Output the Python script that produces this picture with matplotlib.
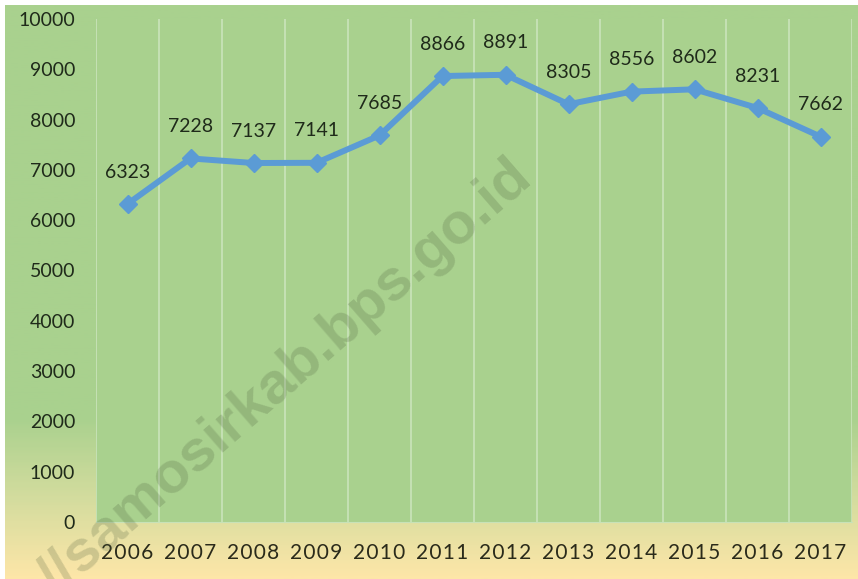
import matplotlib
matplotlib.use("Agg")
from matplotlib import pyplot as plt
from matplotlib.colors import LinearSegmentedColormap
import numpy as np

years = ["2006", "2007", "2008", "2009", "2010", "2011",
         "2012", "2013", "2014", "2015", "2016", "2017"]
values = [6323, 7228, 7137, 7141, 7685, 8866, 8891, 8305, 8556, 8602, 8231, 7662]
yticks = [0, 1000, 2000, 3000, 4000, 5000, 6000, 7000, 8000, 9000, 10000]

plt.rcParams['font.family'] = ['Lato', 'DejaVu Sans']

fig = plt.figure(figsize=(8.58, 5.79), dpi=100)
fig.patch.set_facecolor("white")

# gradient background (green top -> pale yellow bottom)
bg = fig.add_axes([5 / 858, 0, 1 - 5 / 858, 1 - 5 / 579], zorder=0)
cmap = LinearSegmentedColormap.from_list(
    "bg", [(0.0, "#a9d18e"), (0.72, "#a9d18e"), (0.86, "#d3dc9e"), (1.0, "#fde6a8")])
grad = np.linspace(0, 1, 300).reshape(-1, 1)
bg.imshow(grad, aspect="auto", cmap=cmap, extent=[0, 1, 0, 1], origin="upper")
bg.axis("off")

ax = fig.add_axes([96 / 858, 1 - 522 / 579, (852 - 96) / 858, (522 - 19) / 579], zorder=1)
ax.set_facecolor("#a9d18e")

x = np.arange(len(years))
ax.plot(x, values, color="#5b9bd5", lw=4.3, marker="D", ms=9, zorder=3, solid_capstyle="round")
for xi, v in zip(x, values):
    ax.annotate(str(v), (xi, v), xytext=(0, 23), textcoords="offset points",
                ha="center", va="center", fontsize=14, color="#1f2a1a")

for b in np.arange(-0.5, len(years), 1.0):
    ax.axvline(b, color="#c8e2b8", lw=1.3, zorder=1)

ax.set_xlim(-0.5, len(years) - 0.5)
ax.set_ylim(0, 10000)
ax.set_yticks(yticks)
ax.set_yticklabels([str(t) for t in yticks], fontsize=14, color="#1f2a1a")
ax.set_xticks(x)
ax.set_xticklabels(["\u200a".join(y) for y in years], fontsize=15, color="#2a2a1a")
ax.tick_params(length=0)
ax.tick_params(axis="y", pad=15)
ax.tick_params(axis="x", pad=15)
for s in ax.spines.values():
    s.set_visible(False)
ax.spines["bottom"].set_visible(True)
ax.spines["bottom"].set_color("#c8e2b8")

# watermark
fig.text(286 / 858, 1 - 378 / 579, "//samosirkab.bps.go.id", rotation=41,
         ha="center", va="center", fontsize=42, fontweight="bold",
         family="Liberation Sans", color="#4a5a3a", alpha=0.22, zorder=5)

fig.savefig("out.png", dpi=100)
